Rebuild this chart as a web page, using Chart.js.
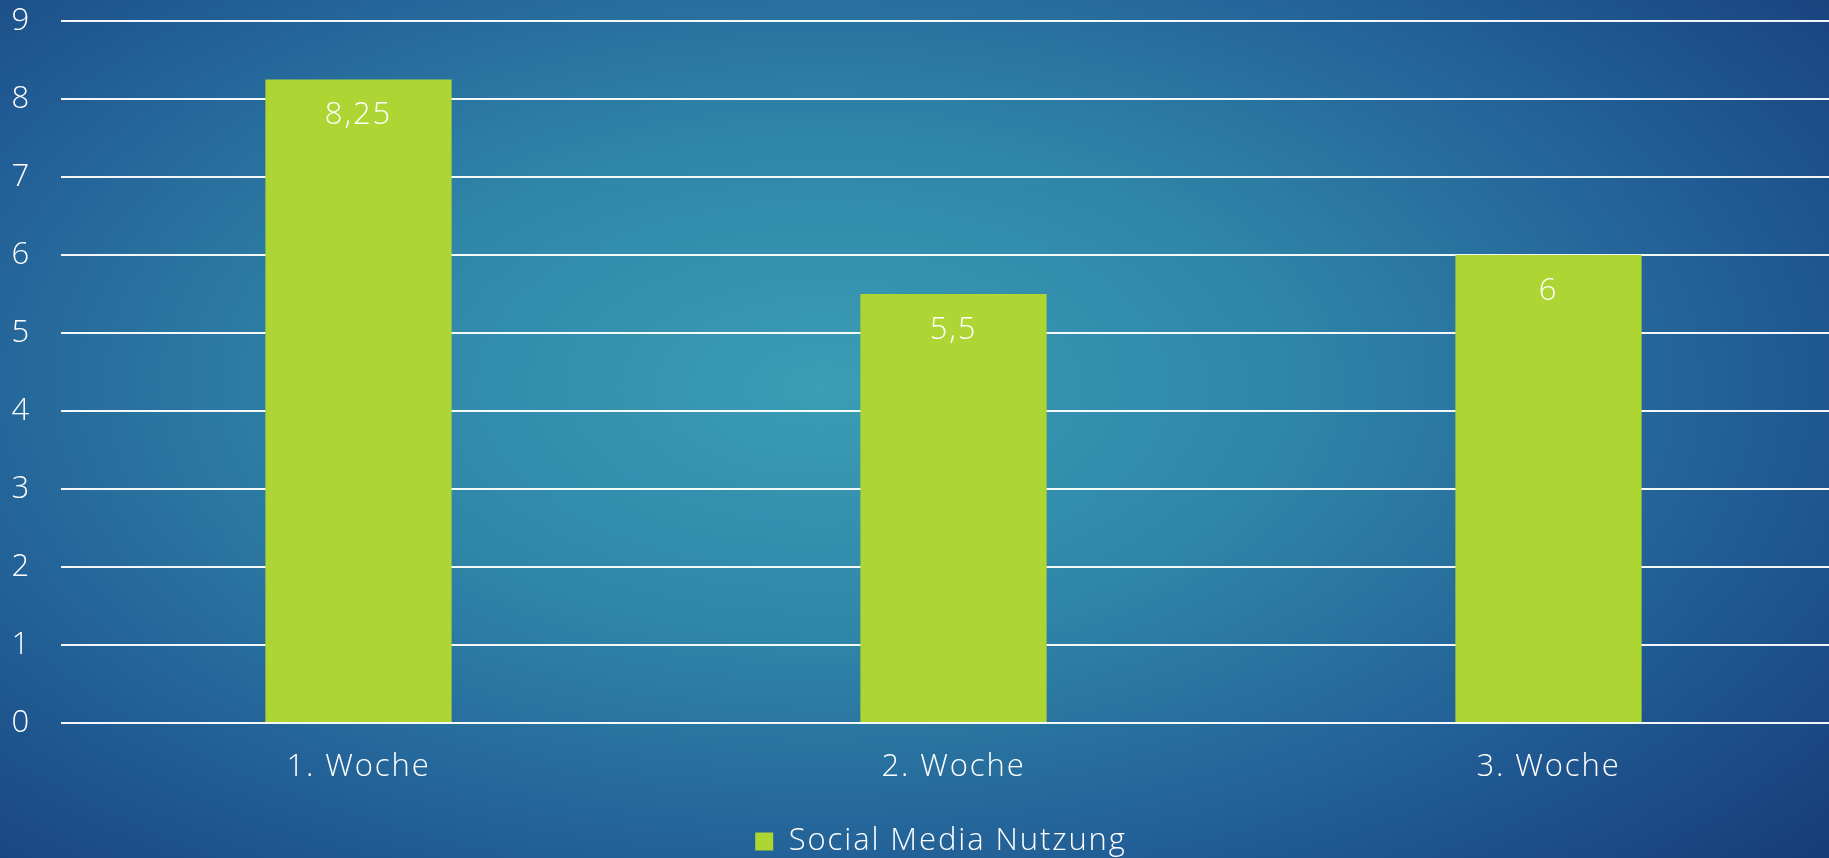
<!DOCTYPE html>
<html>
<head>
<meta charset="utf-8">
<script src="https://cdn.jsdelivr.net/npm/chart.js@4/dist/chart.umd.min.js"></script>
<style>
  html, body { margin: 0; padding: 0; width: 1829px; height: 858px; overflow: hidden; }
  body {
    background: radial-gradient(ellipse 72% 82% at 45% 45%, #3b9db6 0%, #2f86a8 35%, #225e96 70%, #173e79 100%);
  }
  #wrap { position: absolute; left: 0; top: 0; width: 1860px; height: 858px; }
</style>
</head>
<body>
<div id="wrap"><canvas id="c" width="1860" height="858"></canvas></div>
<script>
const categories = ['1. Woche', '2. Woche', '3. Woche'];
const seriesName = 'Social Media Nutzung';
const values = [8.25, 5.5, 6];
const yTicks = [0, 1, 2, 3, 4, 5, 6, 7, 8, 9];

const FONT = '"Open Sans", Lato, sans-serif';
const FSIZE = 31;
const SPACING = '1.9px';
const LEGEND_SHIFT = 18;
const barColor = '#add533';

const letterSpacing = {
  id: 'letterSpacing',
  beforeUpdate(chart) { chart.ctx.letterSpacing = SPACING; },
  beforeDraw(chart) { chart.ctx.letterSpacing = SPACING; }
};

const legendShift = {
  id: 'legendShift',
  afterLayout(chart) {
    if (chart.legend) {
      chart.legend.left += LEGEND_SHIFT;
      chart.legend.right += LEGEND_SHIFT;
    }
  }
};

const valueLabels = {
  id: 'valueLabels',
  afterDatasetsDraw(chart) {
    const ctx = chart.ctx;
    const meta = chart.getDatasetMeta(0);
    ctx.save();
    ctx.fillStyle = '#ffffff';
    ctx.font = '300 ' + FSIZE + 'px ' + FONT;
    ctx.textAlign = 'center';
    ctx.textBaseline = 'middle';
    meta.data.forEach((bar, i) => {
      const v = chart.data.datasets[0].data[i];
      ctx.fillText(v.toLocaleString('de-DE'), bar.x, bar.y + 36);
    });
    ctx.restore();
  }
};

new Chart(document.getElementById('c'), {
  type: 'bar',
  data: {
    labels: categories,
    datasets: [{
      label: seriesName,
      data: values,
      backgroundColor: barColor,
      borderWidth: 0,
      categoryPercentage: 1,
      barPercentage: 0.313
    }]
  },
  options: {
    responsive: false,
    animation: false,
    devicePixelRatio: 1,
    layout: { padding: { top: 21, right: 14, left: 0, bottom: -9 } },
    plugins: {
      tooltip: { enabled: false },
      legend: {
        position: 'bottom',
        labels: {
          color: '#ffffff',
          font: { family: FONT, size: FSIZE, weight: '300' },
          boxWidth: 18,
          boxHeight: 18,
          padding: 3
        }
      }
    },
    scales: {
      x: {
        grid: { display: false, drawTicks: false },
        border: { display: false },
        ticks: {
          color: '#ffffff',
          font: { family: FONT, size: FSIZE, weight: '300' },
          padding: 26,
          maxRotation: 0
        },
        afterFit(scale) { scale.height = 100; scale.paddingLeft = 0; scale.paddingRight = 0; }
      },
      y: {
        min: 0,
        max: 9,
        afterBuildTicks(scale) { scale.ticks = yTicks.map(v => ({ value: v })); },
        grid: { color: 'rgba(255,255,255,0.95)', lineWidth: 2, drawTicks: false },
        border: { display: false },
        ticks: {
          color: '#ffffff',
          font: { family: FONT, size: FSIZE, weight: '300' },
          padding: 30
        },
        afterFit(scale) { scale.width = 61; scale.paddingTop = 0; scale.paddingBottom = 0; }
      }
    }
  },
  plugins: [letterSpacing, legendShift, valueLabels]
});
</script>
</body>
</html>
